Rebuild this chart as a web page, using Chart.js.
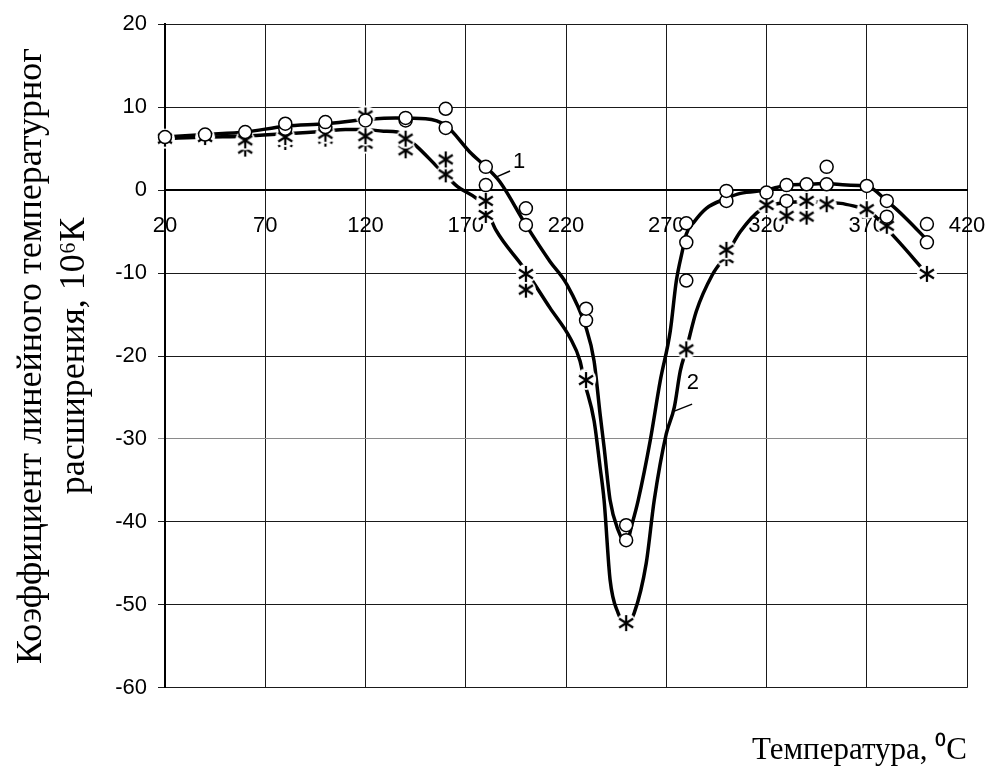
<!DOCTYPE html>
<html>
<head>
<meta charset="utf-8">
<script src="https://cdn.jsdelivr.net/npm/chart.js@4/dist/chart.umd.min.js"></script>
<style>
  html, body { margin: 0; padding: 0; background: #fff; }
  canvas { display: block; }
</style>
</head>
<body>
<canvas id="cteChart" width="989" height="773"></canvas>
<script>
// measured temperatures, degC
const temps = [20, 40, 60, 80, 100, 120, 140, 160, 180, 200, 230, 250, 280, 300, 320, 330, 340, 350, 370, 380, 400];

// curve 1 - circles (repeated measurements)
const circlesA = [6.4, 6.7, 7.0, 8.0, 8.2, 8.4, 8.7, 9.8, 2.8, -2.2, -14.3, -40.4, -4.0, -0.1, -0.3, 0.6, 0.7, 0.7, 0.5, -1.3, -4.1];
const circlesB = [null, null, null, 7.4, 7.6, null, 8.4, 7.5, 0.6, -4.2, -15.7, -42.2, -6.3, -1.3, null, -1.3, null, 2.8, null, -3.2, -6.3];
const circlesC = [null, null, null, null, null, null, null, null, null, null, null, null, -10.9, null, null, null, null, null, null, null, null];

// curve 2 - asterisks
const starsA = [6.2, 6.4, 6.0, 6.4, 6.8, 6.5, 6.2, 3.7, -1.3, -10.1, -22.9, -52.2, -19.2, -7.2, -1.8, -3.1, -1.3, -1.7, -2.3, -4.3, -10.1];
const starsB = [null, null, 5.0, 5.8, 6.2, 5.6, 4.8, 1.9, -3.0, -12.0, -22.7, null, null, -8.2, null, null, -3.2, null, null, null, null];
const starsC = [null, null, null, null, null, 9.0, null, null, null, null, null, null, null, null, null, null, null, null, null, null, null];

// fitted curves as drawn in the figure
const curve1T = [20, 40, 60, 80, 100, 120, 135, 150, 160, 172, 180, 187, 200, 212, 220, 230, 234, 237, 239, 242, 246, 250, 253, 256, 262, 267, 272, 275, 278, 280, 284, 290, 300, 307, 320, 330, 340, 350, 360, 370, 380, 390, 400];
const curve1V = [6.4, 6.7, 7.0, 7.7, 8.0, 8.5, 8.7, 8.6, 7.8, 4.6, 2.8, 1.0, -4.2, -8.6, -11.2, -16.6, -20.6, -27, -31, -37.4, -41, -42.6, -40.2, -37.4, -30.2, -23, -17, -11, -7.4, -5.3, -3.8, -2.2, -1.0, -0.4, 0, 0.6, 0.7, 0.8, 0.6, 0.5, -1.3, -3.5, -6.0];

const curve2T = [20, 40, 60, 80, 100, 110, 120, 129, 136, 145, 155, 165, 180, 185, 199, 212, 222, 227, 229, 234, 237, 239, 242, 246, 250, 254, 260, 264, 270, 274, 277, 280, 285, 293, 300, 307, 317, 330, 340, 357, 365, 370, 384, 400];
const curve2V = [6.2, 6.4, 6.5, 6.8, 7.1, 7.3, 7.3, 7.1, 7.0, 5.4, 3.0, 0.6, -2.2, -4.8, -9.4, -14.2, -17.8, -20.6, -22.9, -27.8, -33.4, -37.4, -47, -51, -52.4, -51, -45, -37.4, -29.4, -26.2, -21.8, -19.2, -14.6, -10.2, -7.8, -5.0, -2.4, -1.5, -1.4, -1.6, -2.0, -2.3, -5.7, -10.1];

const xTickValues = [20, 70, 120, 170, 220, 270, 320, 370, 420];

function toPoints(xs, ys) {
    return xs.map((x, i) => ({x: x, y: ys[i]})).filter(p => p.y !== null);
}

// asterisk marker with a white halo so the curve breaks around it
function makeAsterisk() {
    const c = document.createElement('canvas');
    c.width = 24; c.height = 24;
    const g = c.getContext('2d');
    g.fillStyle = '#fff';
    g.beginPath(); g.arc(12, 12, 10, 0, Math.PI * 2); g.fill();
    g.strokeStyle = '#000';
    g.lineWidth = 2.2;
    g.beginPath();
    g.moveTo(12, 4); g.lineTo(12, 20);
    g.moveTo(5, 7.5); g.lineTo(19, 16.5);
    g.moveTo(5, 16.5); g.lineTo(19, 7.5);
    g.stroke();
    return c;
}
const asterisk = makeAsterisk();

// "1" and "2" callouts next to the curves
const curveLabels = {
    id: 'curveLabels',
    afterDatasetsDraw(chart) {
        const {ctx, scales: {x, y}} = chart;
        const items = [
            {text: '1', tx: 196.6, ty: 3.4, from: [185.4, 1.6], to: [192.1, 2.3]},
            {text: '2', tx: 283.3, ty: -23.25, from: [273.4, -26.7], to: [282.9, -25.8]}
        ];
        ctx.save();
        ctx.strokeStyle = '#000';
        ctx.lineWidth = 1.5;
        ctx.fillStyle = '#000';
        ctx.font = '22px "Liberation Sans", Arial, sans-serif';
        ctx.textAlign = 'center';
        ctx.textBaseline = 'middle';
        items.forEach(it => {
            ctx.beginPath();
            ctx.moveTo(x.getPixelForValue(it.from[0]), y.getPixelForValue(it.from[1]));
            ctx.lineTo(x.getPixelForValue(it.to[0]), y.getPixelForValue(it.to[1]));
            ctx.stroke();
            ctx.fillText(it.text, x.getPixelForValue(it.tx), y.getPixelForValue(it.ty));
        });
        ctx.restore();
    }
};

const lineStyle = {
    showLine: true,
    borderColor: '#000',
    borderWidth: 3.5,
    pointRadius: 0,
    cubicInterpolationMode: 'monotone',
    fill: false,
    order: 3
};
const circleStyle = {
    showLine: false,
    pointStyle: 'circle',
    pointRadius: 6.5,
    pointBorderWidth: 1.5,
    pointBorderColor: '#000',
    pointBackgroundColor: '#fff',
    clip: false,
    order: 1
};
const starStyle = {
    showLine: false,
    pointStyle: asterisk,
    pointRadius: 8,
    clip: false,
    order: 2
};

new Chart(document.getElementById('cteChart'), {
    type: 'scatter',
    data: {
        datasets: [
            Object.assign({label: 'curve 1', data: toPoints(curve1T, curve1V)}, lineStyle),
            Object.assign({label: 'curve 2', data: toPoints(curve2T, curve2V)}, lineStyle),
            Object.assign({label: '2a', data: toPoints(temps, starsA)}, starStyle),
            Object.assign({label: '2b', data: toPoints(temps, starsB)}, starStyle),
            Object.assign({label: '2c', data: toPoints(temps, starsC)}, starStyle),
            Object.assign({label: '1a', data: toPoints(temps, circlesA)}, circleStyle),
            Object.assign({label: '1b', data: toPoints(temps, circlesB)}, circleStyle),
            Object.assign({label: '1c', data: toPoints(temps, circlesC)}, circleStyle)
        ]
    },
    options: {
        responsive: false,
        animation: false,
        layout: {padding: {left: 0, right: 22, top: 24, bottom: 0}},
        scales: {
            x: {
                type: 'linear',
                position: {y: 0},
                min: 20,
                max: 420,
                afterBuildTicks: scale => { scale.ticks = xTickValues.map(v => ({value: v})); },
                afterFit: scale => { scale.paddingLeft = 0; scale.paddingRight = 0; },
                grid: {color: '#1a1a1a', lineWidth: 1, tickLength: 8},
                border: {color: '#000', width: 2},
                ticks: {
                    color: '#000',
                    padding: 15,
                    maxRotation: 0,
                    autoSkip: false,
                    font: {family: '"Liberation Sans", Arial, sans-serif', size: 22}
                }
            },
            y: {
                type: 'linear',
                position: 'left',
                min: -60,
                max: 20,
                afterFit: scale => { scale.width = 165; },
                grid: {
                    color: ctx => (ctx.tick && ctx.tick.value === -30) ? '#8a8a8a' : '#1a1a1a',
                    lineWidth: 1,
                    tickLength: 7
                },
                border: {color: '#000', width: 2},
                ticks: {
                    stepSize: 10,
                    color: '#000',
                    padding: 11,
                    font: {family: '"Liberation Sans", Arial, sans-serif', size: 22}
                },
                title: {
                    display: true,
                    text: ['Коэффициент линейного температурног', 'расширения, 10⁶К'],
                    color: '#000',
                    padding: {top: 10, bottom: 0},
                    font: {family: '"Liberation Serif", "Times New Roman", serif', size: 36, lineHeight: 1.2}
                }
            }
        },
        plugins: {
            legend: {display: false},
            tooltip: {enabled: false},
            title: {
                display: true,
                position: 'bottom',
                align: 'end',
                text: 'Температура, ⁰С',
                color: '#000',
                padding: {top: 44, bottom: 4},
                font: {family: '"Liberation Serif", "Times New Roman", serif', size: 31, weight: 'normal', lineHeight: 1.2}
            }
        }
    },
    plugins: [curveLabels]
});
</script>
</body>
</html>
